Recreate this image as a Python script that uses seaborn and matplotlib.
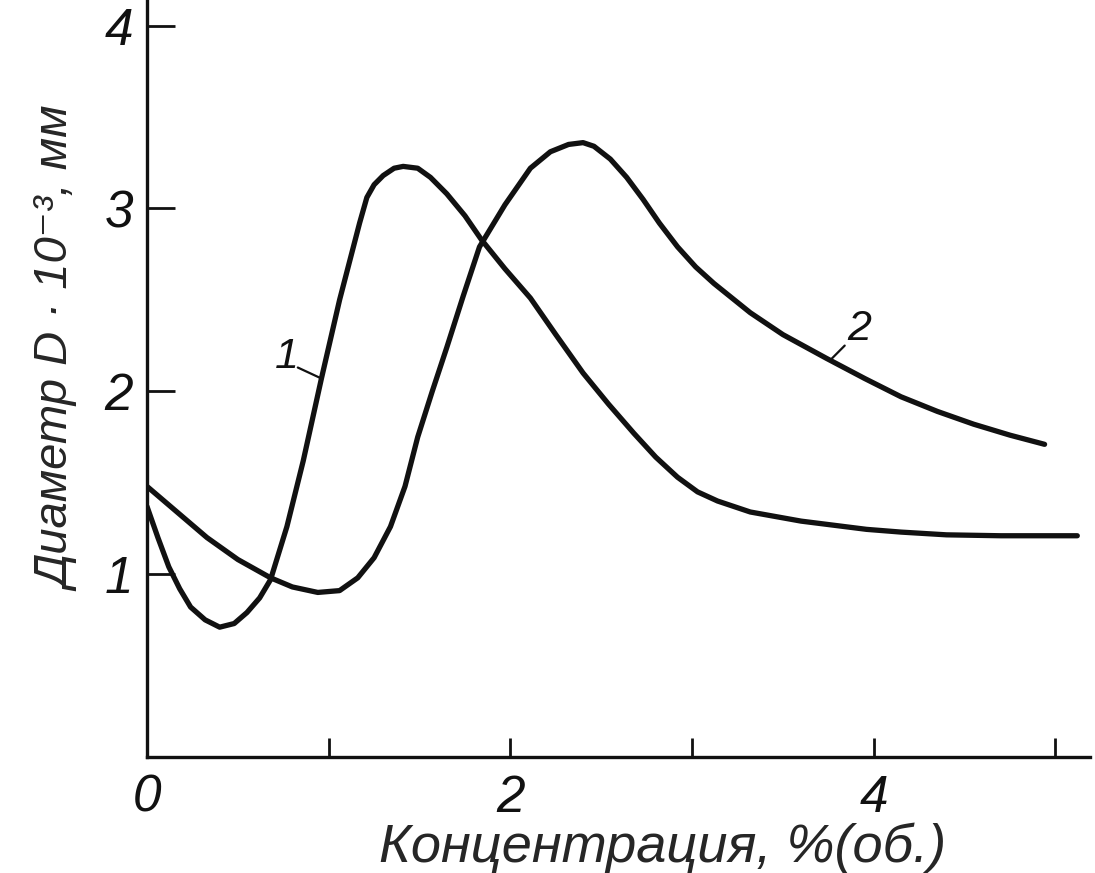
import matplotlib
matplotlib.use("Agg")
import matplotlib.pyplot as plt
import seaborn as sns
import pandas as pd

# Curve 1 (peak near 1.4 %)
c1_x = [0, 0.06, 0.12, 0.18, 0.24, 0.32, 0.40, 0.48, 0.55, 0.62, 0.68, 0.77, 0.86, 0.96,
        1.06, 1.17, 1.21, 1.25, 1.30, 1.36, 1.41, 1.49, 1.56, 1.65, 1.75, 1.84, 1.97, 2.11,
        2.25, 2.40, 2.54, 2.68, 2.80, 2.92, 3.03, 3.14, 3.32, 3.60, 3.96, 4.15, 4.40, 4.70, 5.12]
c1_y = [1.37, 1.20, 1.04, 0.92, 0.82, 0.75, 0.71, 0.73, 0.79, 0.87, 0.97, 1.26, 1.62, 2.07,
        2.50, 2.92, 3.06, 3.13, 3.18, 3.22, 3.23, 3.22, 3.17, 3.08, 2.96, 2.83, 2.67, 2.51,
        2.31, 2.10, 1.93, 1.77, 1.64, 1.53, 1.45, 1.40, 1.34, 1.29, 1.245, 1.23, 1.215, 1.21, 1.21]

# Curve 2 (peak near 2.4 %)
c2_x = [0, 0.33, 0.50, 0.68, 0.80, 0.94, 1.06, 1.16, 1.25, 1.34, 1.42, 1.49, 1.57, 1.65,
        1.74, 1.83, 1.97, 2.11, 2.22, 2.32, 2.40, 2.46, 2.55, 2.64, 2.73, 2.82, 2.92, 3.02,
        3.12, 3.32, 3.50, 3.74, 3.95, 4.15, 4.35, 4.55, 4.75, 4.94]
c2_y = [1.48, 1.20, 1.08, 0.98, 0.93, 0.90, 0.91, 0.98, 1.09, 1.26, 1.48, 1.75, 2.00, 2.24,
        2.52, 2.79, 3.02, 3.22, 3.31, 3.35, 3.36, 3.34, 3.27, 3.17, 3.05, 2.92, 2.79, 2.68,
        2.59, 2.43, 2.31, 2.18, 2.07, 1.97, 1.89, 1.82, 1.76, 1.71]

x_ticks = [0, 1, 2, 3, 4, 5]
x_tick_labels = ["0", "", "2", "", "4", ""]
y_ticks = [1, 2, 3, 4]
y_tick_labels = ["1", "2", "3", "4"]

x_label = "Концентрация, %(об.)"
y_label = "Диаметр D · 10⁻³, мм"

sns.set_style("ticks")
FAM = ["Liberation Sans", "DejaVu Sans"]
plt.rcParams["font.family"] = FAM
plt.rcParams["font.style"] = "italic"

INK = "#111111"
fig = plt.figure(figsize=(10.95, 8.73), dpi=100)
ax = fig.add_axes([147 / 1095, (873 - 757) / 873, (1090 - 147) / 1095, 757 / 873])

df1 = pd.DataFrame({"x": c1_x, "y": c1_y})
df2 = pd.DataFrame({"x": c2_x, "y": c2_y})
for df in (df1, df2):
    sns.lineplot(data=df, x="x", y="y", ax=ax, sort=False, estimator=None,
                 color=INK, linewidth=3.8, solid_joinstyle="round", solid_capstyle="round")

ax.set_xlim(0, 5.19)
ax.set_ylim(0, 4.14)
for s in ("top", "right"):
    ax.spines[s].set_visible(False)
for s in ("left", "bottom"):
    ax.spines[s].set_linewidth(2.4)
    ax.spines[s].set_color(INK)

ax.set_xticks(x_ticks)
ax.set_xticklabels(x_tick_labels, fontsize=37, style="italic")
ax.set_yticks(y_ticks)
ax.set_yticklabels(y_tick_labels, fontsize=37, style="italic")
ax.tick_params(axis="x", direction="in", length=14, width=2, colors=INK, pad=12)
ax.tick_params(axis="y", direction="in", length=20, width=2, colors=INK, pad=10)

ax.set_xlabel(x_label, fontsize=39, style="italic")
ax.set_ylabel(y_label, fontsize=34, style="italic")
ax.xaxis.set_label_coords(0.547, -0.086)
ax.yaxis.set_label_coords(-0.07, 0.538)

# curve labels with leader lines
ax.text(0.77, 2.19, "1", fontsize=31, style="italic", color=INK, ha="center", va="center")
ax.plot([0.83, 0.96], [2.13, 2.07], color=INK, lw=1.6)
ax.text(3.92, 2.34, "2", fontsize=31, style="italic", color=INK, ha="center", va="center")
ax.plot([3.76, 3.84], [2.17, 2.25], color=INK, lw=1.6)

ax.set_facecolor("white")
fig.savefig("out.png", dpi=100, facecolor="white")
